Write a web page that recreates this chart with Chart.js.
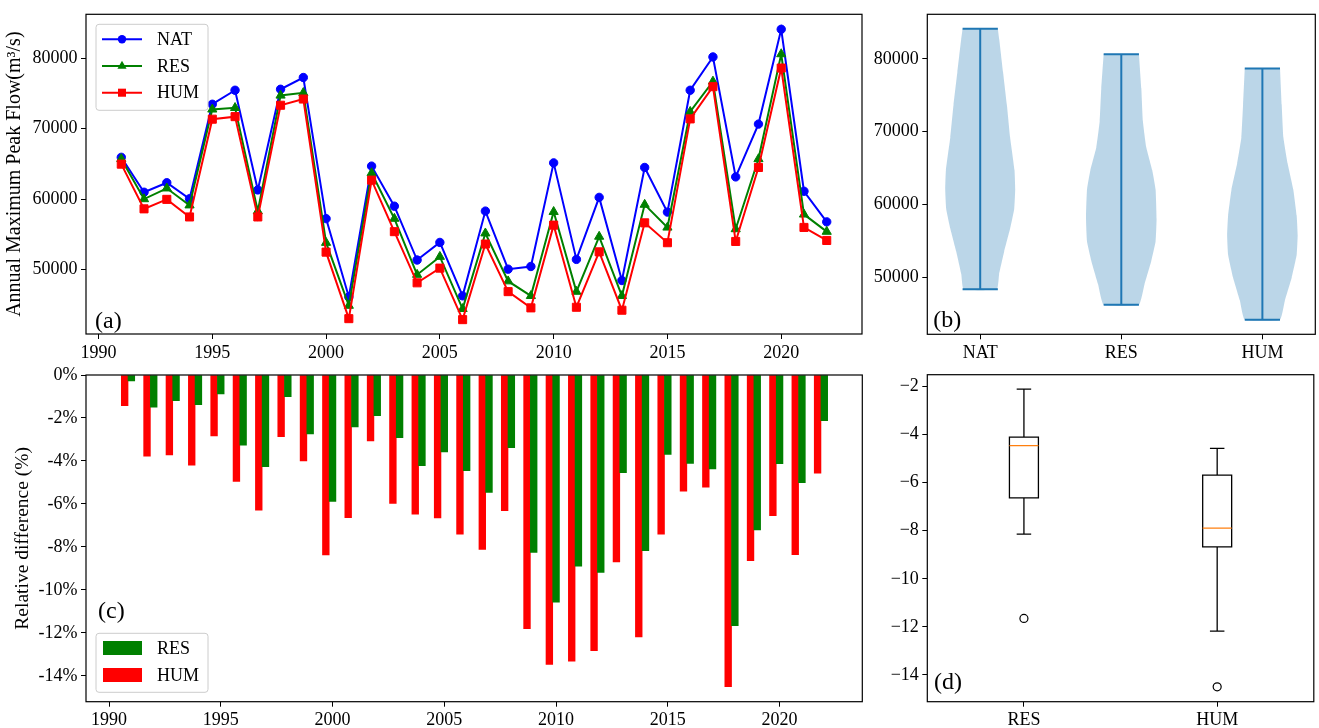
<!DOCTYPE html>
<html>
<head>
<meta charset="utf-8">
<script src="https://cdn.jsdelivr.net/npm/chart.js@4.4.1/dist/chart.umd.min.js"></script>
<style>
  html, body { margin: 0; padding: 0; background: #fff; }
  body { width: 1319px; height: 728px; position: relative; overflow: hidden; }
  .panel { position: absolute; }
</style>
</head>
<body>
<div class="panel" style="left:0;top:0;width:870px;height:360px"><canvas id="chartA"></canvas></div>
<div class="panel" style="left:868px;top:0;width:451px;height:360px"><canvas id="chartB"></canvas></div>
<div class="panel" style="left:0;top:360px;width:870px;height:368px"><canvas id="chartC"></canvas></div>
<div class="panel" style="left:868px;top:360px;width:451px;height:368px"><canvas id="chartD"></canvas></div>
<script>
// ---- data ----
const years = [1991, 1992, 1993, 1994, 1995, 1996, 1997, 1998, 1999, 2000, 2001, 2002, 2003, 2004, 2005, 2006,
  2007, 2008, 2009, 2010, 2011, 2012, 2013, 2014, 2015, 2016, 2017, 2018, 2019, 2020, 2021, 2022];

// annual maximum peak flow (m3/s)
const nat = [65930, 60970, 62320, 60040, 73470, 75460, 61300, 75600, 77270, 57220, 46100, 64680, 58990, 51340, 53840, 46250,
  58290, 50040, 50420, 65140, 51430, 60240, 48430, 64490, 58150, 75460, 80190, 63150, 70650, 84120, 61110, 56760];
const res = [65700, 60000, 61530, 59120, 72740, 72960, 58290, 74720, 75090, 53800, 44860, 63700, 57220, 49260, 51810, 44400,
  55140, 48330, 46250, 58190, 46850, 54670, 46250, 59210, 55970, 72410, 76710, 55740, 65690, 80600, 57820, 55370];
const hum = [64960, 58610, 59960, 57460, 71350, 71710, 57460, 73330, 74210, 52460, 43010, 62690, 55370, 48100, 50190, 42870,
  53610, 46850, 44540, 56300, 44630, 52500, 44210, 56620, 53800, 71390, 75970, 53980, 64490, 78610, 55970, 54120];

// relative difference to NAT (%)
const resDiff = [-0.28, -1.50, -1.19, -1.38, -0.88, -3.26, -4.26, -1.01, -2.74, -5.88, -2.42, -1.89, -2.91, -4.22, -3.58, -4.45,
  -5.46, -3.38, -8.26, -10.57, -8.90, -9.18, -4.54, -8.17, -3.69, -4.11, -4.37, -11.66, -7.21, -4.12, -5.01, -2.12];
const humDiff = [-1.43, -3.78, -3.72, -4.20, -2.84, -4.95, -6.29, -2.87, -4.00, -8.37, -6.64, -3.07, -5.98, -6.48, -6.65, -7.41,
  -8.11, -6.31, -11.80, -13.46, -13.32, -12.82, -8.70, -12.19, -7.41, -5.40, -5.22, -14.50, -8.64, -6.54, -8.36, -4.57];

// violin outlines (flow level, half width in category units)
const violinCats = ['NAT', 'RES', 'HUM'];
const violinMax = [84120, 80630, 78660];
const violinMin = [48330, 46180, 44130];
const violinLevels = [
  [84120, 82640, 78160, 73680, 69200, 64720, 62030, 59350, 56660, 53520, 50390, 48330],
  [80630, 75920, 71440, 67860, 64720, 62030, 58000, 54870, 52180, 49040, 46180],
  [78660, 73680, 69200, 65620, 62030, 58450, 55760, 53070, 49940, 46800, 44130]
];
const violinWidths = [
  [0.125, 0.135, 0.162, 0.189, 0.212, 0.243, 0.248, 0.241, 0.212, 0.170, 0.134, 0.118],
  [0.125, 0.142, 0.153, 0.177, 0.219, 0.243, 0.250, 0.243, 0.212, 0.165, 0.125],
  [0.125, 0.137, 0.149, 0.179, 0.219, 0.243, 0.250, 0.243, 0.208, 0.160, 0.125]
];

// box plot statistics (%)
const boxCats = ['RES', 'HUM'];
const boxQ1 = [-6.63, -8.67];
const boxMedian = [-4.45, -7.89];
const boxQ3 = [-4.10, -5.68];
const whiskerLow = [-8.14, -12.18];
const whiskerHigh = [-2.10, -4.57];
const boxOutliers = [[-11.65], [-14.50]];

// tick labels
const yearTicks = [1990, 1995, 2000, 2005, 2010, 2015, 2020];
const flowTicks = [50000, 60000, 70000, 80000];
const diffTicks = [0, -2, -4, -6, -8, -10, -12, -14];
const boxTicks = [-2, -4, -6, -8, -10, -12, -14];

// ---- common setup ----
const FONT = "'Liberation Serif', 'Times New Roman', serif";
Chart.defaults.font.family = FONT;
Chart.defaults.font.size = 18;
Chart.defaults.color = '#000';
Chart.defaults.animation = false;
Chart.defaults.events = [];
Chart.defaults.plugins.legend.display = false;
Chart.defaults.plugins.tooltip.enabled = false;

function axis(o) {
  const s = {
    type: 'linear',
    min: o.min,
    max: o.max,
    offset: false,
    grid: { display: true, drawOnChartArea: false, drawTicks: true, tickLength: 5, tickColor: '#000', tickWidth: 1, offset: false },
    border: { display: false },
    ticks: { padding: o.pad, autoSkip: false, maxRotation: 0, callback: o.format },
    afterBuildTicks: sc => { sc.ticks = o.ticks.map(v => ({ value: v })); },
    afterFit: sc => { if (sc.isHorizontal()) sc.height = o.size; else sc.width = o.size; }
  };
  if (o.title) {
    s.title = { display: true, text: o.title, font: { size: o.titleSize }, padding: { top: o.titlePad, bottom: 0 } };
  }
  return s;
}

// frame, panel letter and the small framed legends
const panelPlugin = {
  id: 'panel',
  afterDatasetsDraw(chart, args, opts) {
    const { ctx, chartArea: a } = chart;
    ctx.save();
    ctx.strokeStyle = '#000';
    ctx.lineWidth = 1.2;
    ctx.strokeRect(a.left, a.top, a.right - a.left, a.bottom - a.top);

    ctx.font = '24px ' + FONT;
    ctx.fillStyle = '#000';
    ctx.textAlign = 'left';
    ctx.textBaseline = 'middle';
    ctx.fillText(opts.label, a.left + opts.labelDx, a.top + opts.labelDy);

    const lg = opts.legend;
    if (lg) {
      const x = a.left + lg.dx, y = a.top + lg.dy;
      ctx.beginPath();
      ctx.roundRect(x, y, lg.w, lg.h, 3);
      ctx.fillStyle = 'rgba(255,255,255,0.8)';
      ctx.fill();
      ctx.strokeStyle = '#cccccc';
      ctx.lineWidth = 1;
      ctx.stroke();
      const items = chart.data.datasets.filter(d => d.legendRow !== undefined)
        .sort((p, q) => p.legendRow - q.legendRow);
      items.forEach((d, i) => {
        const ry = y + lg.rowStart + i * lg.rowGap;
        const col = d.borderColor || d.backgroundColor;
        if (lg.kind === 'line') {
          ctx.strokeStyle = col;
          ctx.lineWidth = 2;
          ctx.beginPath();
          ctx.moveTo(x + 6, ry);
          ctx.lineTo(x + 46, ry);
          ctx.stroke();
          drawMarker(ctx, d.pointStyle, d.pointRadius, x + 26, ry, col);
        } else {
          ctx.fillStyle = d.backgroundColor;
          ctx.fillRect(x + 7, ry - 7, 39, 14);
        }
        ctx.fillStyle = '#000';
        ctx.font = '18px ' + FONT;
        ctx.textBaseline = 'middle';
        ctx.fillText(d.label, x + 61, ry + 1);
      });
    }
    ctx.restore();
  }
};

function drawMarker(ctx, style, r, x, y, col) {
  ctx.fillStyle = col;
  ctx.beginPath();
  if (style === 'circle') {
    ctx.arc(x, y, r, 0, Math.PI * 2);
  } else if (style === 'triangle') {
    for (let k = 0; k < 3; k++) {
      const ang = k * 2 * Math.PI / 3;
      const px = x + Math.sin(ang) * r, py = y - Math.cos(ang) * r;
      if (k === 0) ctx.moveTo(px, py); else ctx.lineTo(px, py);
    }
    ctx.closePath();
  } else {
    const h = r * Math.SQRT1_2;
    ctx.rect(x - h, y - h, 2 * h, 2 * h);
  }
  ctx.fill();
}

// ---- (a) line chart ----
function flowSeries(label, values, color, style, radius, order, row) {
  return {
    label, legendRow: row, order,
    data: years.map((yr, i) => ({ x: yr, y: values[i] })),
    borderColor: color, backgroundColor: color,
    borderWidth: 2, pointStyle: style, pointRadius: radius,
    pointBackgroundColor: color, pointBorderColor: color, pointBorderWidth: 1,
    tension: 0, fill: false
  };
}

new Chart(document.getElementById('chartA'), {
  type: 'line',
  data: {
    datasets: [
      flowSeries('NAT', nat, '#0000ff', 'circle', 4.2, 3, 0),
      flowSeries('RES', res, '#008000', 'triangle', 5.3, 2, 1),
      flowSeries('HUM', hum, '#ff0000', 'rect', 5.7, 1, 2)
    ]
  },
  options: {
    responsive: true, maintainAspectRatio: false,
    layout: { padding: { left: 0, top: 7, right: 8, bottom: 0 } },
    scales: {
      x: axis({ min: 1989.45, max: 2023.55, ticks: yearTicks, size: 26, pad: 3, format: v => String(v) }),
      y: axis({ min: 40830, max: 86250, ticks: flowTicks, size: 86, pad: 3.5, format: v => String(v),
        title: 'Annual Maximum Peak Flow(m\u00b3/s)', titleSize: 20, titlePad: 3 })
    },
    plugins: {
      panel: { label: '(a)', labelDx: 9, labelDy: 307,
        legend: { kind: 'line', dx: 10, dy: 10, w: 112, h: 86, rowStart: 15, rowGap: 26.7 } }
    }
  },
  plugins: [panelPlugin]
});

// ---- (b) violins ----
const violinSets = [];
violinCats.forEach((c, i) => {
  const p = i + 1, lv = violinLevels[i], hw = violinWidths[i];
  const outline = lv.map((v, k) => ({ x: p - hw[k], y: v }));
  for (let k = lv.length - 1; k >= 0; k--) outline.push({ x: p + hw[k], y: lv[k] });
  violinSets.push({
    data: outline, showLine: true, fill: 'shape', order: 2,
    backgroundColor: 'rgba(31,119,180,0.3)', borderColor: 'rgba(0,0,0,0)', borderWidth: 1,
    pointRadius: 0, tension: 0.12
  });
  violinSets.push({
    data: [
      { x: p - 0.125, y: violinMax[i] }, { x: p + 0.125, y: violinMax[i] }, { x: p, y: violinMax[i] },
      { x: p, y: violinMin[i] }, { x: p - 0.125, y: violinMin[i] }, { x: p + 0.125, y: violinMin[i] }
    ],
    showLine: true, fill: false, order: 1,
    borderColor: '#1f77b4', borderWidth: 2, pointRadius: 0, tension: 0
  });
});

new Chart(document.getElementById('chartB'), {
  type: 'scatter',
  data: { datasets: violinSets },
  options: {
    responsive: true, maintainAspectRatio: false,
    layout: { padding: { left: 0, top: 7.7, right: 3.7, bottom: 0 } },
    scales: {
      x: axis({ min: 0.625, max: 3.375, ticks: [1, 2, 3], size: 25.7, pad: 3, format: v => violinCats[v - 1] }),
      y: axis({ min: 42130, max: 86120, ticks: flowTicks, size: 59.3, pad: 3.5, format: v => String(v) })
    },
    plugins: { panel: { label: '(b)', labelDx: 6, labelDy: 306 } }
  },
  plugins: [panelPlugin]
});

// ---- (c) relative difference bars ----
const barShift = 0.3;
new Chart(document.getElementById('chartC'), {
  type: 'bar',
  data: {
    datasets: [
      { label: 'RES', legendRow: 0, data: years.map((yr, i) => ({ x: yr, y: resDiff[i] })),
        backgroundColor: '#008000', borderWidth: 0, grouped: false, barPercentage: 1, categoryPercentage: 1 },
      { label: 'HUM', legendRow: 1, data: years.map((yr, i) => ({ x: yr - barShift, y: humDiff[i] })),
        backgroundColor: '#ff0000', borderWidth: 0, grouped: false, barPercentage: 1, categoryPercentage: 1 }
    ]
  },
  options: {
    responsive: true, maintainAspectRatio: false,
    layout: { padding: { left: 0, top: 15, right: 7.7, bottom: 0 } },
    scales: {
      x: axis({ min: 1988.97, max: 2023.7, ticks: yearTicks, size: 26.3, pad: 3, format: v => String(v) }),
      y: axis({ min: -15.2, max: 0, ticks: diffTicks, size: 86, pad: 3.5, format: v => v + '%',
        title: 'Relative difference (%)', titleSize: 19.5, titlePad: 11 })
    },
    plugins: {
      panel: { label: '(c)', labelDx: 12, labelDy: 237,
        legend: { kind: 'patch', dx: 10, dy: 258.3, w: 112, h: 59, rowStart: 14.7, rowGap: 27 } }
    }
  },
  plugins: [panelPlugin]
});

// ---- (d) box plots ----
const boxSets = [];
boxCats.forEach((c, i) => {
  const p = i + 1, b = 0.075, k = 0.0375;
  boxSets.push({
    data: [
      { x: p - k, y: whiskerHigh[i] }, { x: p + k, y: whiskerHigh[i] }, { x: p, y: whiskerHigh[i] },
      { x: p, y: boxQ3[i] }, { x: p + b, y: boxQ3[i] }, { x: p + b, y: boxQ1[i] }, { x: p, y: boxQ1[i] },
      { x: p, y: whiskerLow[i] }, { x: p - k, y: whiskerLow[i] }, { x: p + k, y: whiskerLow[i] },
      { x: p, y: whiskerLow[i] }, { x: p, y: boxQ1[i] }, { x: p - b, y: boxQ1[i] }, { x: p - b, y: boxQ3[i] },
      { x: p, y: boxQ3[i] }
    ],
    showLine: true, fill: false, borderColor: '#000', borderWidth: 1.3, pointRadius: 0, tension: 0, order: 2
  });
  boxSets.push({
    data: [{ x: p - b, y: boxMedian[i] }, { x: p + b, y: boxMedian[i] }],
    showLine: true, fill: false, borderColor: '#ff7f0e', borderWidth: 1.3, pointRadius: 0, order: 1
  });
  boxSets.push({
    data: boxOutliers[i].map(v => ({ x: p, y: v })),
    showLine: false, pointStyle: 'circle', pointRadius: 4,
    pointBackgroundColor: 'rgba(0,0,0,0)', pointBorderColor: '#000', pointBorderWidth: 1.2, order: 1
  });
});

new Chart(document.getElementById('chartD'), {
  type: 'scatter',
  data: { datasets: boxSets },
  options: {
    responsive: true, maintainAspectRatio: false,
    layout: { padding: { left: 0, top: 14.7, right: 3.7, bottom: 0 } },
    scales: {
      x: axis({ min: 0.5, max: 2.5, ticks: [1, 2], size: 26.3, pad: 3, format: v => boxCats[v - 1] }),
      y: axis({ min: -15.12, max: -1.5, ticks: boxTicks, size: 59.3, pad: 3.5, format: v => '\u2212' + Math.abs(v) })
    },
    plugins: { panel: { label: '(d)', labelDx: 6.7, labelDy: 308 } }
  },
  plugins: [panelPlugin]
});
</script>
</body>
</html>
